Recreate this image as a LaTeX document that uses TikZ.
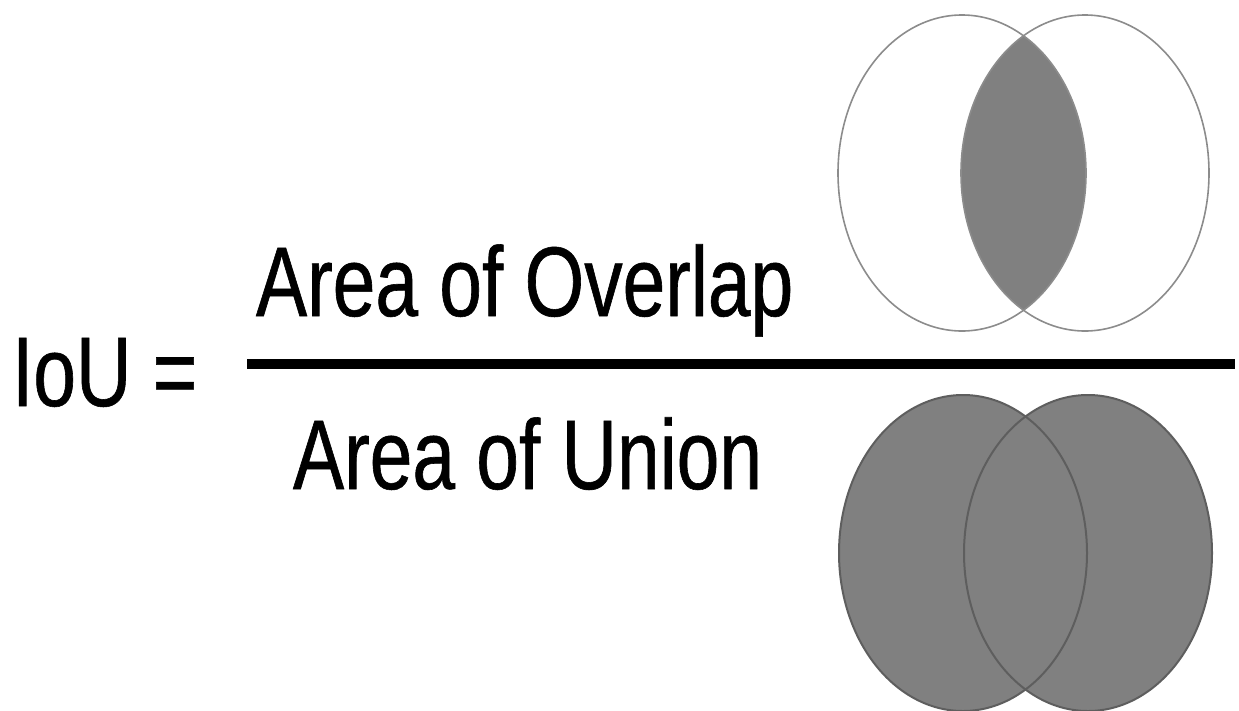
\documentclass[tikz,border=0pt]{standalone}
\usepackage{fontspec}
\setmainfont[FakeStretch=0.775, FakeBold=0.6]{Liberation Sans}
\definecolor{fillgray}{HTML}{808080}
\definecolor{lightline}{HTML}{8C8C8C}
\definecolor{darkline}{HTML}{5E5E5E}
\tikzset{
  bigtext/.style={inner sep=0pt, outer sep=0pt, font=\fontsize{99}{110}\selectfont, text=black},
  topring/.style={draw=lightline, line width=1.6pt},
  botring/.style={draw=darkline, line width=2pt},
}
\begin{document}
\begin{tikzpicture}[x=1pt, y=-1pt]
\useasboundingbox (0,0) rectangle (1239,710);
% text
\node[bigtext, anchor=base west] (iou) at (12,406) {IoU =};
\node[bigtext, anchor=base west] (num) at (256,316) {Area of Overlap};
\node[bigtext, anchor=base west] (den) at (293,489) {Area of Union};
% fraction bar
\coordinate (barL) at (247,364);
\coordinate (barR) at (1235,364);
\draw[line width=10pt, black] (barL) -- (barR);
% top: overlap
\begin{scope}
  \clip (962,173) ellipse [x radius=124, y radius=158];
  \fill[fillgray] (1085,173) ellipse [x radius=124, y radius=158];
\end{scope}
\draw[topring] (962,173) ellipse [x radius=124, y radius=158];
\draw[topring] (1085,173) ellipse [x radius=124, y radius=158];
% bottom: union
\fill[fillgray] (963,553) ellipse [x radius=124, y radius=158];
\fill[fillgray] (1088,553) ellipse [x radius=124, y radius=158];
\draw[botring] (963,553) ellipse [x radius=124, y radius=158];
\draw[botring] (1088,553) ellipse [x radius=124, y radius=158];
\end{tikzpicture}
\end{document}
